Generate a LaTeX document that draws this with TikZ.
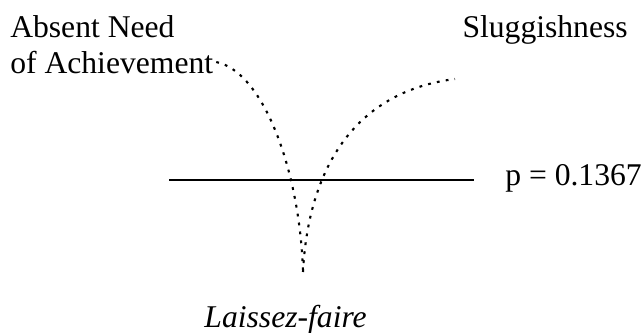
\documentclass[tikz,border=0pt]{standalone}
\usepackage{fontspec}
\setmainfont{Liberation Serif}
\begin{document}
\begin{tikzpicture}[font=\fontsize{22.5}{26}\selectfont, every node/.style={inner sep=0pt}]
    \useasboundingbox (0,0) rectangle (16.1,8.3);

    \node[anchor=base west] (need) at (0.25,7.375) {Absent Need};
    \node[anchor=base west] (ach) at (0.25,6.475) {of Achievement};
    \node[anchor=base east] (slug) at (15.7,7.375) {Sluggishness};
    \node[anchor=base west] (pval) at (12.625,3.675) {p = 0.1367};
    \node[anchor=base] (lf) at (7.14,0.125) {\itshape Laissez-faire};

    \coordinate (L) at (4.225,3.8);
    \coordinate (R) at (11.85,3.8);
    \draw[line width=0.9pt] (L) -- (R);

    \coordinate (tip) at (7.575,1.5);
    \coordinate (send) at (11.375,6.325);
    \draw[line width=1.5pt, dash pattern=on 2pt off 4.4pt] ([xshift=2pt]ach.east) .. controls (6.6,6.5) and (7.5,4.0) .. (tip);
    \draw[line width=1.5pt, dash pattern=on 2pt off 4.4pt] (tip) .. controls (7.7,4.0) and (8.8,6.0) .. (send);
  \end{tikzpicture}
\end{document}
